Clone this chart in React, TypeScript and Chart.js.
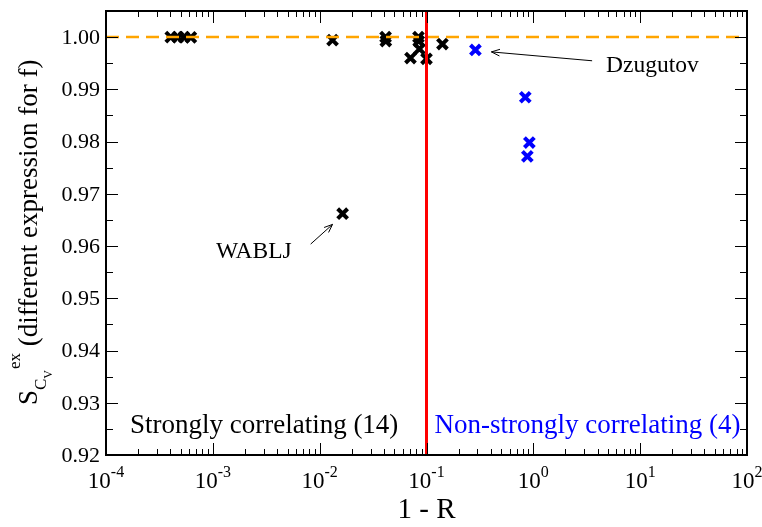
import React, { useEffect, useRef } from "react";
import { Chart, registerables } from "chart.js";

Chart.register(...registerables);

// ---- data ----
const strongX = [4.04e-4, 4.71e-4, 5.36e-4, 6.23e-4, 0.0132, 0.0414, 0.0416, 0.0841, 0.0845, 0.0859, 0.0708, 0.1, 0.141, 0.0164];
const strongY = [1.0, 1.0, 1.0, 0.99995, 0.99943, 1.0, 0.99925, 1.0, 0.99925, 0.99774, 0.996, 0.99585, 0.99868, 0.9662];
const nonStrongX = [0.287, 0.841, 0.918, 0.879];
const nonStrongY = [0.99755, 0.98849, 0.97981, 0.97717];
const referenceLevel = 1.0;
const splitValue = 0.1;
const xDecades = [-4, -3, -2, -1, 0, 1, 2];
const yMajorTicks = [0.92, 0.93, 0.94, 0.95, 0.96, 0.97, 0.98, 0.99, 1.0];
const yTickLabels = ["0.92", "0.93", "0.94", "0.95", "0.96", "0.97", "0.98", "0.99", "1.00"];
const xRange = [1e-4, 1e2];
const yRange = [0.92, 1.005];

const FONT = '"Liberation Serif", "Times New Roman", Times, serif';

const decorPlugin = {
  id: "decor",
  afterDraw(chart: any) {
    const { ctx, chartArea: a, scales } = chart;
    const xs = scales.x;
    const ys = scales.y;
    ctx.save();
    // ticks
    ctx.strokeStyle = "#000";
    ctx.lineWidth = 1;
    const line = (x1: number, y1: number, x2: number, y2: number) => {
      ctx.beginPath();
      ctx.moveTo(x1, y1);
      ctx.lineTo(x2, y2);
      ctx.stroke();
    };
    yMajorTicks.forEach((v) => {
      const p = Math.round(ys.getPixelForValue(v)) + 0.5;
      line(a.left, p, a.left + 12, p);
      line(a.right, p, a.right - 12, p);
      const m = Math.round(ys.getPixelForValue(v + 0.005)) + 0.5;
      if (v + 0.005 < yRange[1] - 1e-9) {
        line(a.left, m, a.left + 7, m);
        line(a.right, m, a.right - 7, m);
      }
    });
    xDecades.forEach((d) => {
      const p = Math.round(xs.getPixelForValue(Math.pow(10, d))) + 0.5;
      line(p, a.top, p, a.top + 12);
      line(p, a.bottom, p, a.bottom - 12);
      if (d < xDecades[xDecades.length - 1]) {
        for (let k = 2; k <= 9; k++) {
          const q = Math.round(xs.getPixelForValue(k * Math.pow(10, d))) + 0.5;
          line(q, a.top, q, a.top + 6);
          line(q, a.bottom, q, a.bottom - 6);
        }
      }
    });
    // frame
    ctx.lineWidth = 2;
    ctx.strokeRect(a.left, a.top, a.right - a.left, a.bottom - a.top);

    // y tick labels
    ctx.fillStyle = "#000";
    ctx.font = `22px ${FONT}`;
    ctx.textAlign = "right";
    ctx.textBaseline = "middle";
    yMajorTicks.forEach((v, i) => {
      ctx.fillText(yTickLabels[i], a.left - 6, ys.getPixelForValue(v) + 1);
    });

    // x tick labels 10^d
    ctx.textBaseline = "alphabetic";
    ctx.textAlign = "left";
    xDecades.forEach((d) => {
      const p = xs.getPixelForValue(Math.pow(10, d));
      ctx.font = `23px ${FONT}`;
      const wb = ctx.measureText("10").width;
      ctx.font = `16px ${FONT}`;
      const exp = String(d);
      const we = ctx.measureText(exp).width;
      const start = p - (wb + we) / 2;
      ctx.font = `23px ${FONT}`;
      ctx.fillText("10", start, a.bottom + 33);
      ctx.font = `16px ${FONT}`;
      ctx.fillText(exp, start + wb, a.bottom + 22);
    });

    // x title
    ctx.font = `29px ${FONT}`;
    ctx.textAlign = "center";
    ctx.fillText("1 - R", (a.left + a.right) / 2, a.bottom + 63);

    // y title (rotated)
    ctx.save();
    ctx.translate(a.left - 69, a.bottom - 50);
    ctx.rotate(-Math.PI / 2);
    ctx.textAlign = "left";
    let cx = 0;
    ctx.font = `27px ${FONT}`;
    ctx.fillText("S", cx, 0);
    cx += ctx.measureText("S").width;
    ctx.font = `17px ${FONT}`;
    ctx.fillText("C", cx, 9);
    cx += ctx.measureText("C").width;
    ctx.font = `12px ${FONT}`;
    ctx.fillText("V", cx, 15);
    cx += ctx.measureText("V").width + 1;
    ctx.font = `17px ${FONT}`;
    ctx.fillText("ex", cx, -17);
    cx += ctx.measureText("ex").width;
    ctx.font = `27px ${FONT}`;
    ctx.fillText(" (different expression for f)", cx, 0);
    ctx.restore();

    // region labels
    ctx.font = `27px ${FONT}`;
    ctx.textAlign = "left";
    ctx.fillStyle = "#000";
    ctx.fillText("Strongly correlating (14)", xs.getPixelForValue(1.675e-4), ys.getPixelForValue(0.92415));
    ctx.fillStyle = "#0000ff";
    ctx.fillText("Non-strongly correlating (4)", xs.getPixelForValue(0.119), ys.getPixelForValue(0.92415));

    // annotations
    ctx.fillStyle = "#000";
    ctx.font = `23.5px ${FONT}`;
    ctx.fillText("Dzugutov", xs.getPixelForValue(4.8), ys.getPixelForValue(0.9934));
    ctx.textAlign = "center";
    ctx.fillText("WABLJ", xs.getPixelForValue(0.00242), ys.getPixelForValue(0.95774));

    const arrow = (fx: number, fy: number, tx: number, ty: number) => {
      const x1 = xs.getPixelForValue(fx), y1 = ys.getPixelForValue(fy);
      const x2 = xs.getPixelForValue(tx), y2 = ys.getPixelForValue(ty);
      ctx.strokeStyle = "#000";
      ctx.lineWidth = 1;
      line(x1, y1, x2, y2);
      const ang = Math.atan2(y2 - y1, x2 - x1);
      const L = 9, w = 0.38;
      line(x2, y2, x2 - L * Math.cos(ang - w), y2 - L * Math.sin(ang - w));
      line(x2, y2, x2 - L * Math.cos(ang + w), y2 - L * Math.sin(ang + w));
    };
    arrow(3.55, 0.99547, 0.405, 0.99717);
    arrow(0.00824, 0.96038, 0.0132, 0.96415);
    ctx.restore();
  },
};

export default function App() {
  const ref = useRef<HTMLCanvasElement | null>(null);
  useEffect(() => {
    if (!ref.current) return;
    const chart = new Chart(ref.current, {
      type: "scatter",
      data: {
        datasets: [
          {
            label: "split",
            data: [
              { x: splitValue, y: yRange[0] },
              { x: splitValue, y: yRange[1] },
            ],
            showLine: true,
            borderColor: "#ff0000",
            borderWidth: 3,
            pointRadius: 0,
            order: 0,
          },
          {
            label: "reference",
            data: [
              { x: xRange[0], y: referenceLevel },
              { x: xRange[1], y: referenceLevel },
            ],
            showLine: true,
            borderColor: "#ffa500",
            borderWidth: 2.5,
            borderDash: [13, 7],
            pointRadius: 0,
            order: 1,
          },
          {
            label: "strong",
            data: strongX.map((x, i) => ({ x, y: strongY[i] })),
            pointStyle: "crossRot",
            pointRadius: 7,
            borderColor: "#000000",
            backgroundColor: "#000000",
            pointBorderWidth: 4,
            order: 2,
          },
          {
            label: "nonstrong",
            data: nonStrongX.map((x, i) => ({ x, y: nonStrongY[i] })),
            pointStyle: "crossRot",
            pointRadius: 7,
            borderColor: "#0000ff",
            backgroundColor: "#0000ff",
            pointBorderWidth: 4,
            order: 3,
          },
        ],
      },
      options: {
        responsive: false,
        animation: false,
        layout: { padding: { left: 106, right: 15, top: 7, bottom: 72 } },
        plugins: { legend: { display: false }, tooltip: { enabled: false } },
        scales: {
          x: { type: "logarithmic", min: xRange[0], max: xRange[1], display: false },
          y: { type: "linear", min: yRange[0], max: yRange[1], display: false },
        },
      },
      plugins: [decorPlugin],
    } as any);
    return () => chart.destroy();
  }, []);
  return (
    <div style={{ position: "absolute", left: 0, top: 0, width: 762, height: 527, background: "#fff" }}>
      <canvas ref={ref} width={762} height={527} />
    </div>
  );
}
